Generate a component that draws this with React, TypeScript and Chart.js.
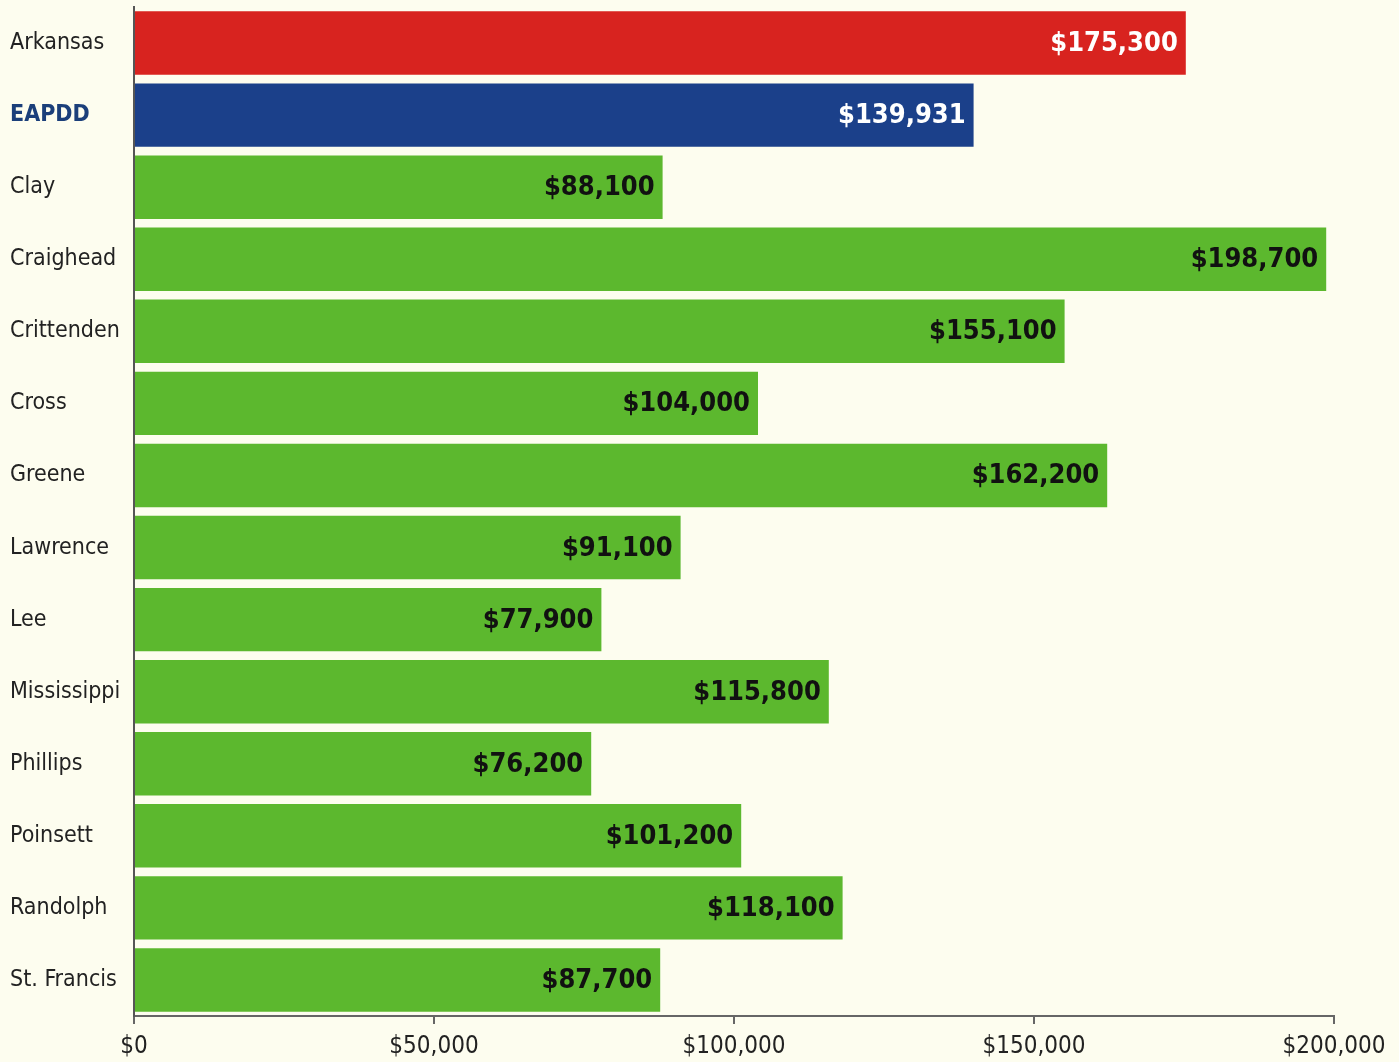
import React, { useEffect, useRef } from "react";
import { Chart, registerables } from "chart.js";

Chart.register(...registerables);

const categories = [
  "Arkansas", "EAPDD", "Clay", "Craighead", "Crittenden", "Cross", "Greene",
  "Lawrence", "Lee", "Mississippi", "Phillips", "Poinsett", "Randolph", "St. Francis",
];
const values = [175300, 139931, 88100, 198700, 155100, 104000, 162200, 91100, 77900, 115800, 76200, 101200, 118100, 87700];
const barColors = [
  "#d8231f", "#1b408a", "#5cb82e", "#5cb82e", "#5cb82e", "#5cb82e", "#5cb82e",
  "#5cb82e", "#5cb82e", "#5cb82e", "#5cb82e", "#5cb82e", "#5cb82e", "#5cb82e",
];
const valueLabelColors = ["#ffffff", "#ffffff", "#111111", "#111111", "#111111", "#111111", "#111111",
  "#111111", "#111111", "#111111", "#111111", "#111111", "#111111", "#111111"];
const xTicks = [0, 50000, 100000, 150000, 200000];

const FONT = "'Liberation Sans Narrow', 'DejaVu Sans Condensed', 'Arial Narrow', sans-serif";

const fmt = (v: number) => "$" + v.toLocaleString("en-US");

const valueLabels = {
  id: "valueLabels",
  afterDatasetsDraw(chart: any) {
    const ctx = chart.ctx;
    const meta = chart.getDatasetMeta(0);
    ctx.save();
    ctx.font = `bold 27px ${FONT}`;
    ctx.textAlign = "right";
    ctx.textBaseline = "middle";
    meta.data.forEach((bar: any, i: number) => {
      ctx.fillStyle = valueLabelColors[i];
      ctx.fillText(fmt(values[i]), bar.x - 8, bar.y + 1);
    });
    ctx.restore();
  },
};

const bgPlugin = {
  id: "bg",
  beforeDraw(chart: any) {
    const ctx = chart.ctx;
    ctx.save();
    ctx.fillStyle = "#fdfdef";
    ctx.fillRect(0, 0, chart.width, chart.height);
    ctx.restore();
  },
};

export default function App() {
  const ref = useRef<HTMLCanvasElement>(null);
  useEffect(() => {
    document.body.style.margin = "0";
    document.body.style.background = "#fdfdef";
    const chart = new Chart(ref.current!, {
      type: "bar",
      data: {
        labels: categories,
        datasets: [
          {
            data: values,
            backgroundColor: barColors,
            barPercentage: 0.88,
            categoryPercentage: 1,
          },
        ],
      },
      options: {
        indexAxis: "y",
        animation: false,
        responsive: false,
        layout: { padding: { top: 7, right: 65, left: 10, bottom: 0 } },
        plugins: { legend: { display: false }, tooltip: { enabled: false } },
        scales: {
          x: {
            min: 0,
            max: 200000,
            afterBuildTicks: (axis: any) => {
              axis.ticks = xTicks.map((v) => ({ value: v }));
            },
            afterFit: (axis: any) => {
              axis.height = 46;
            },
            grid: { display: true, drawOnChartArea: false, drawTicks: true, tickLength: 8, color: "#666", lineWidth: 2 },
            border: { display: true, color: "#666", width: 2 },
            ticks: {
              callback: (v: any) => fmt(Number(v)),
              font: { family: FONT, size: 24 },
              color: "#222",
              padding: 8,
              maxRotation: 0,
            },
          },
          y: {
            afterFit: (axis: any) => {
              axis.width = 124;
              axis.paddingTop = 0;
              axis.paddingBottom = 0;
            },
            grid: { display: false },
            border: { display: true, color: "#555", width: 2 },
            ticks: {
              crossAlign: "far",
              padding: 6,
              font: (c: any) => ({ family: FONT, size: 23, weight: c.index === 1 ? "bold" : "normal" }),
              color: (c: any) => (c.index === 1 ? "#1b3f7a" : "#222"),
            },
          },
        },
      },
      plugins: [bgPlugin, valueLabels],
    });
    return () => chart.destroy();
  }, []);
  return (
    <div style={{ position: "absolute", left: 0, top: 0, width: 1399, height: 1062 }}>
      <canvas ref={ref} width={1399} height={1062} />
    </div>
  );
}
